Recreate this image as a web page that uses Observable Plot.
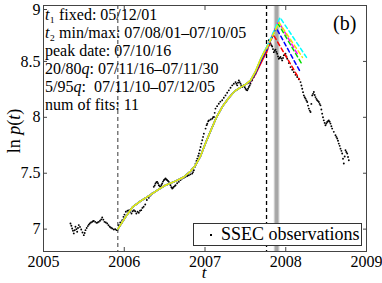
<!DOCTYPE html>
<html><head><meta charset="utf-8">
<script src="https://cdn.jsdelivr.net/npm/d3@7"></script>
<script src="https://cdn.jsdelivr.net/npm/@observablehq/plot@0.6"></script>
<style>
body{margin:0;background:#fff;}
#wrap{position:relative;width:382px;height:283px;font-family:"Liberation Serif","Times New Roman",Times,serif;color:#000;overflow:hidden;}
#wrap svg{position:absolute;left:0;top:0;}
.ann{position:absolute;left:45px;font-size:16px;line-height:18px;white-space:pre;}
.panel{position:absolute;left:333px;top:13px;font-size:20px;line-height:20px;}
.legend{position:absolute;left:193px;top:223px;width:167px;height:21px;border:1px solid #333;background:#fff;font-size:18px;line-height:21px;}
.legend .mk{position:absolute;left:16px;top:10px;width:2px;height:2px;background:#000;}
.legend .lt{position:absolute;left:27px;top:0;white-space:nowrap;}
.ylab{position:absolute;left:14px;top:131px;transform:translate(-50%,-50%) rotate(-90deg);font-size:18px;line-height:18px;white-space:pre;}
.xlab{position:absolute;left:204px;top:264px;transform:translateX(-50%);font-size:17px;line-height:17px;font-style:italic;}
</style></head><body><div id="wrap"></div>
<script>
// Axis ticks
const xTicks = [2005, 2006, 2007, 2008, 2009];
const yTicks = [7, 7.5, 8, 8.5, 9];

// Dates (decimal years)
const t1Fixed = 2005.92;     // 05/12/01
const t2Max = 2007.762;      // 07/10/05
const q5to95 = [2007.858, 2007.927];   // 07/11/10 - 07/12/05
const q20to80 = [2007.874, 2007.913];  // 07/11/16 - 07/11/30

// Annotation lines
const annLines = [
  "<i>t</i>\u2081 fixed: 05/12/01",
  "<i>t</i>\u2082 min/max: 07/08/01–07/10/05",
  "peak date: 07/10/16",
  "20/80<i>q</i>: 07/11/16–07/11/30",
  "5/95<i>q</i>:  07/11/10–07/12/05",
  "num of fits: 11"
];

// SSEC observations: [decimal year, ln p]
const ssecObs = [
[2005.334,7.051],[2005.345,7.03],[2005.355,7.006],[2005.365,6.985],[2005.375,6.962],[2005.386,6.99],[2005.396,7.021],[2005.407,7.0],[2005.417,6.976],[2005.427,7.01],[2005.437,7.036],[2005.452,7.02],[2005.467,6.997],[2005.483,6.97],[2005.499,6.946],[2005.510,6.965],[2005.520,6.991],[2005.535,7.01],[2005.549,7.027],[2005.561,7.04],[2005.573,7.051],[2005.588,7.06],[2005.603,7.065],[2005.613,7.07],[2005.623,7.074],[2005.640,7.065],[2005.656,7.056],[2005.670,7.06],[2005.685,7.065],[2005.700,7.075],[2005.715,7.087],[2005.727,7.104],[2005.741,7.085],[2005.755,7.065],[2005.772,7.06],[2005.789,7.051],[2005.805,7.035],[2005.821,7.021],[2005.836,7.012],[2005.851,7.006],[2005.871,6.997],[2005.888,7.0],[2005.904,6.991],[2005.920,6.997],
[2005.933,7.036],[2005.950,7.06],[2005.975,7.08],[2005.990,7.11],[2006.003,7.13],[2006.020,7.155],[2006.040,7.165],[2006.060,7.17],[2006.075,7.155],[2006.090,7.14],[2006.105,7.16],[2006.120,7.17],[2006.135,7.16],[2006.150,7.14],[2006.165,7.155],[2006.180,7.146],[2006.195,7.165],[2006.210,7.17],[2006.225,7.19],[2006.240,7.2],[2006.260,7.22],[2006.280,7.26],[2006.304,7.28],[2006.325,7.3],[2006.346,7.319],[2006.366,7.378],[2006.377,7.39],[2006.387,7.408],[2006.398,7.42],[2006.408,7.423],[2006.418,7.41],[2006.428,7.393],[2006.440,7.385],[2006.449,7.378],[2006.460,7.395],[2006.470,7.408],[2006.480,7.425],[2006.490,7.438],[2006.500,7.445],[2006.511,7.453],[2006.522,7.445],[2006.532,7.438],[2006.542,7.43],[2006.552,7.423],[2006.563,7.405],[2006.573,7.393],[2006.584,7.375],[2006.594,7.363],[2006.604,7.37],[2006.614,7.378],[2006.625,7.385],[2006.635,7.393],[2006.655,7.41],[2006.676,7.423],[2006.697,7.44],[2006.718,7.453],[2006.738,7.46],[2006.759,7.468],[2006.780,7.475],[2006.800,7.482],[2006.820,7.49],[2006.842,7.497],[2006.852,7.51],[2006.862,7.527],[2006.873,7.555],[2006.883,7.586],[2006.894,7.61],[2006.904,7.631],[2006.915,7.655],[2006.925,7.676],[2006.935,7.705],[2006.945,7.735],[2006.955,7.765],[2006.966,7.795],[2006.976,7.825],[2006.986,7.854],
[2007.007,7.899],[2007.020,7.93],[2007.028,7.943],[2007.040,7.965],[2007.049,7.973],[2007.070,7.98],[2007.090,7.988],[2007.100,8.0],[2007.111,8.003],[2007.120,8.04],[2007.130,8.078],[2007.150,8.1],[2007.171,8.122],[2007.190,8.14],[2007.213,8.152],[2007.233,8.175],[2007.254,8.196],[2007.275,8.22],[2007.295,8.241],[2007.316,8.265],[2007.337,8.286],[2007.357,8.30],[2007.378,8.315],[2007.389,8.30],[2007.399,8.286],[2007.409,8.31],[2007.419,8.330],[2007.430,8.315],[2007.440,8.301],[2007.450,8.285],[2007.461,8.271],[2007.471,8.28],[2007.481,8.286],[2007.492,8.27],[2007.502,8.256],[2007.513,8.245],[2007.523,8.241],[2007.533,8.255],[2007.543,8.271],[2007.553,8.285],[2007.563,8.301],[2007.584,8.33],[2007.604,8.360],[2007.625,8.39],[2007.646,8.420],[2007.666,8.455],[2007.687,8.494],[2007.707,8.53],[2007.728,8.569],[2007.745,8.59],[2007.762,8.613],[2007.776,8.64],[2007.790,8.69],[2007.800,8.675],[2007.811,8.66],[2007.822,8.645],[2007.832,8.634],[2007.842,8.61],
[2007.852,8.583],[2007.863,8.595],[2007.873,8.604],[2007.884,8.585],[2007.894,8.569],[2007.904,8.545],[2007.914,8.524],[2007.925,8.53],[2007.935,8.539],[2007.946,8.525],[2007.956,8.509],[2007.966,8.53],[2007.976,8.554],[2007.987,8.56],[2007.997,8.569],[2008.008,8.545],[2008.018,8.524],[2008.038,8.485],[2008.059,8.449],[2008.080,8.425],[2008.100,8.404],[2008.121,8.38],[2008.142,8.360],[2008.162,8.34],[2008.183,8.315],[2008.194,8.285],[2008.204,8.256],[2008.214,8.225],[2008.224,8.196],[2008.235,8.18],[2008.245,8.167],[2008.256,8.15],[2008.266,8.137],[2008.276,8.105],[2008.286,8.078],[2008.297,8.06],[2008.307,8.048],[2008.317,8.12],[2008.328,8.196],[2008.338,8.21],[2008.348,8.226],[2008.358,8.2],[2008.368,8.181],[2008.379,8.165],[2008.389,8.152],[2008.400,8.145],[2008.410,8.137],[2008.420,8.12],[2008.430,8.107],[2008.441,8.07],[2008.451,8.033],[2008.461,8.0],[2008.471,7.973],[2008.482,7.95],[2008.492,7.929],[2008.503,7.945],[2008.513,7.958],[2008.523,7.965],[2008.533,7.973],[2008.544,7.96],[2008.554,7.944],[2008.565,7.92],[2008.575,7.899],[2008.595,7.87],[2008.616,7.839],[2008.627,7.825],[2008.637,7.810],[2008.647,7.79],[2008.657,7.765],[2008.668,7.745],[2008.678,7.720],[2008.689,7.70],[2008.699,7.676],[2008.709,7.63],[2008.719,7.587],[2008.730,7.65],[2008.740,7.705],[2008.750,7.69],[2008.761,7.676],[2008.771,7.645],[2008.781,7.616]
];

// Common solid part of the fits (t1 -> mid 2007): [decimal year, ln p]
const fitCore = [
[2005.920,7.000],[2006.015,7.107],[2006.102,7.196],[2006.201,7.250],[2006.300,7.295],[2006.412,7.348],[2006.511,7.393],[2006.635,7.429],[2006.734,7.464],[2006.820,7.518],[2006.882,7.571],[2006.944,7.652],[2007.006,7.768],[2007.068,7.875],[2007.142,8.000],[2007.217,8.098],[2007.291,8.170],[2007.365,8.232],[2007.440,8.268],[2007.502,8.295]
];
// Solid tails up to t2 (times), then per-fit values
const tailTimes = [2007.563, 2007.625, 2007.687, 2007.737, 2007.762];
const fitNames  = ["red", "blue", "green", "magenta", "cyan", "yellow"];
const fitColors = ["#ff0000", "#0000ff", "#00dd00", "#ff00ff", "#00ffff", "#f2e600"];
const fitTails = [
[8.315, 8.385, 8.475, 8.550, 8.580],
[8.320, 8.395, 8.495, 8.570, 8.597],
[8.325, 8.405, 8.510, 8.580, 8.607],
[8.330, 8.410, 8.515, 8.585, 8.612],
[8.330, 8.412, 8.520, 8.595, 8.625],
[8.330, 8.411, 8.518, 8.589, 8.616]
];
// Dashed extrapolation beyond t2: [apex, end] as [decimal year, ln p]
const fitExtrap = [
[[2007.845,8.741],[2008.170,8.339]],
[[2007.879,8.804],[2008.183,8.402]],
[[2007.904,8.839],[2008.195,8.482]],
[[2007.910,8.857],[2008.150,8.560]],
[[2007.929,8.893],[2008.257,8.536]],
[[2007.916,8.848],[2008.207,8.536]]
];

const solidRows = [], dashRows = [];
fitNames.forEach((name, i) => {
  fitCore.forEach(([t, v]) => solidRows.push({fit: name, t, v}));
  tailTimes.forEach((t, j) => solidRows.push({fit: name, t, v: fitTails[i][j]}));
  dashRows.push({fit: name, t: tailTimes[tailTimes.length - 1], v: fitTails[i][tailTimes.length - 1]});
  fitExtrap[i].forEach(([t, v]) => dashRows.push({fit: name, t, v}));
});
const colorOf = Object.fromEntries(fitNames.map((n, i) => [n, fitColors[i]]));

const font = '"Liberation Serif","Times New Roman",Times,serif';
const axisCol = "#444";

const chart = Plot.plot({
  width: 382, height: 283,
  marginLeft: 43, marginRight: 16, marginTop: 5, marginBottom: 32,
  x: {domain: [2005, 2009]},
  y: {domain: [6.8, 9]},
  style: {fontFamily: font, fontSize: "16px", background: "transparent", color: "#000", overflow: "visible"},
  marks: [
    Plot.rect([q5to95], {x1: d => d[0], x2: d => d[1], fill: "#cbcbcb"}),
    Plot.rect([q20to80], {x1: d => d[0], x2: d => d[1], fill: "#a6a6a6"}),
    Plot.ruleX([t1Fixed], {stroke: "#666", strokeDasharray: "4,3", strokeWidth: 1.3}),
    Plot.ruleX([t2Max], {stroke: "#000", strokeDasharray: "4,3", strokeWidth: 1.3}),
    Plot.dot(ssecObs, {x: d => d[0], y: d => d[1], r: 0.95, fill: "#000", stroke: null}),
    ...fitNames.map(n => Plot.line(solidRows.filter(r => r.fit === n), {x: "t", y: "v", stroke: colorOf[n], strokeWidth: 1.5})),
    ...fitNames.map(n => Plot.line(dashRows.filter(r => r.fit === n), {x: "t", y: "v", stroke: colorOf[n], strokeWidth: 1.5, strokeDasharray: "4,3"})),
    Plot.frame({stroke: axisCol}),
    Plot.axisX(xTicks, {anchor: "bottom", tickSize: -4, tickPadding: 8, tickFormat: d3.format("d"), label: null, stroke: axisCol}),
    Plot.axisX(xTicks, {anchor: "top", tickSize: -4, tickFormat: () => "", label: null, stroke: axisCol}),
    Plot.axisY(yTicks.filter(v => v < 9), {anchor: "left", tickSize: -4, tickPadding: 7, tickFormat: d => String(d), label: null, stroke: axisCol}),
    Plot.axisY(yTicks.filter(v => v === 9), {anchor: "left", tickSize: -4, tickPadding: 7, tickFormat: d => String(d), label: null, stroke: axisCol, dy: 4}),
    Plot.axisY(yTicks, {anchor: "right", tickSize: -4, tickFormat: () => "", label: null, stroke: axisCol})
  ]
});

const wrap = document.getElementById("wrap");
wrap.appendChild(chart);

annLines.forEach((html, i) => {
  const d = document.createElement("div");
  d.className = "ann";
  d.style.top = (6 + 18 * i) + "px";
  d.innerHTML = html;
  wrap.appendChild(d);
});

const pnl = document.createElement("div");
pnl.className = "panel"; pnl.textContent = "(b)";
wrap.appendChild(pnl);

const leg = document.createElement("div");
leg.className = "legend";
leg.innerHTML = '<span class="mk"></span><span class="lt">SSEC observations</span>';
wrap.appendChild(leg);

const yl = document.createElement("div");
yl.className = "ylab"; yl.innerHTML = "ln <i>p</i>(<i>t</i>)";
wrap.appendChild(yl);

const xl = document.createElement("div");
xl.className = "xlab"; xl.textContent = "t";
wrap.appendChild(xl);
</script>
</body></html>
